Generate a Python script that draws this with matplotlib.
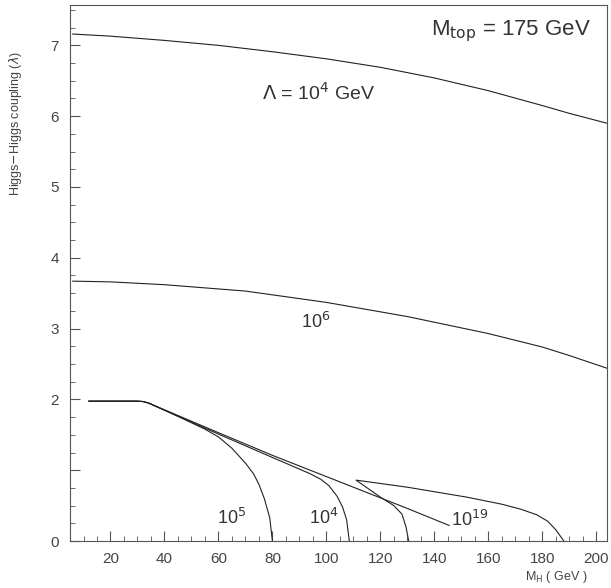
import matplotlib
matplotlib.use('Agg')
import matplotlib.pyplot as plt
from matplotlib.ticker import MultipleLocator

plt.rcParams['font.family'] = ['Liberation Sans', 'DejaVu Sans']

# Lambda = 10^4 GeV (top curve)
top_m = [6, 20, 40, 60, 80, 100, 120, 140, 160, 180, 190, 204]
top_l = [7.16, 7.13, 7.07, 7.00, 6.91, 6.81, 6.69, 6.54, 6.36, 6.15, 6.04, 5.90]

# 10^6
mid_m = [6, 20, 40, 70, 100, 130, 160, 180, 190, 204]
mid_l = [3.67, 3.66, 3.62, 3.53, 3.37, 3.17, 2.93, 2.74, 2.62, 2.44]

# bundle of low curves
bund_m = [12, 30, 32, 34, 60, 80, 100, 112, 130, 145.5]
bund_l = [1.975, 1.975, 1.97, 1.95, 1.53, 1.21, 0.91, 0.73, 0.46, 0.22]

cut80_m = [12, 30, 32, 34, 45, 55, 60, 65, 70, 73, 75, 77, 79, 80]
cut80_l = [1.975, 1.975, 1.97, 1.95, 1.76, 1.58, 1.47, 1.31, 1.10, 0.95, 0.80, 0.60, 0.33, 0.0]

cut108_m = [12, 30, 32, 34, 60, 80, 94, 98, 101, 104, 106, 107.5, 108.5]
cut108_l = [1.975, 1.975, 1.97, 1.95, 1.51, 1.18, 0.95, 0.87, 0.78, 0.63, 0.48, 0.30, 0.0]

# 10^19 closed region
hook_m = [130.5, 129.5, 128, 125, 120, 111, 130, 152, 165, 172, 178, 182, 185, 188]
hook_l = [0.0, 0.20, 0.38, 0.50, 0.62, 0.86, 0.76, 0.62, 0.52, 0.45, 0.37, 0.28, 0.16, 0.0]

fig = plt.figure(figsize=(6.11, 5.88), dpi=100)
ax = fig.add_axes([0.1146, 0.0799, 0.8789, 0.9116])

lc = '#222222'
for m, l in [(top_m, top_l), (mid_m, mid_l), (bund_m, bund_l),
             (cut80_m, cut80_l), (cut108_m, cut108_l), (hook_m, hook_l)]:
    ax.plot(m, l, color=lc, lw=0.8)

ax.set_xlim(5, 204)
ax.set_ylim(0, 7.57)

ax.xaxis.set_minor_locator(MultipleLocator(5))
ax.set_xticks(range(20, 201, 20))
ax.set_yticks(range(0, 8))
ax.set_yticklabels(['0', '', '2', '3', '4', '5', '6', '7'])
ax.yaxis.set_minor_locator(MultipleLocator(0.25))
ax.tick_params(which='both', direction='in', top=False, right=False,
               colors='#555555', labelcolor='#444444')
ax.tick_params(which='major', length=7, width=0.8, labelsize=11, pad=8)
ax.tick_params(which='minor', length=3.5, width=0.6)
for s in ax.spines.values():
    s.set_color('#555555')
    s.set_linewidth(0.8)

ax.text(0.97, 0.975, r'M$_{\rm top}$ = 175 GeV', transform=ax.transAxes,
        ha='right', va='top', fontsize=16, color='#333333')
ax.text(97, 6.33, r'$\Lambda$ = 10$^{4}$ GeV', ha='center', va='center',
        fontsize=14, color='#333333')
ax.text(96, 3.1, r'10$^{6}$', ha='center', va='center', fontsize=13, color='#333333')
ax.text(65, 0.33, r'10$^{5}$', ha='center', va='center', fontsize=13, color='#333333')
ax.text(99, 0.33, r'10$^{4}$', ha='center', va='center', fontsize=13, color='#333333')
ax.text(153, 0.30, r'10$^{19}$', ha='center', va='center', fontsize=13, color='#333333')

fig.text(0.025, 0.79, r'Higgs$-$Higgs coupling ($\lambda$)', rotation=90,
         ha='center', va='center', fontsize=9, color='#444444')
fig.text(0.91, 0.018, r'M$_{\rm H}$ ( GeV )', ha='center', va='center',
         fontsize=9, color='#444444')

fig.savefig('out.png', dpi=100)
